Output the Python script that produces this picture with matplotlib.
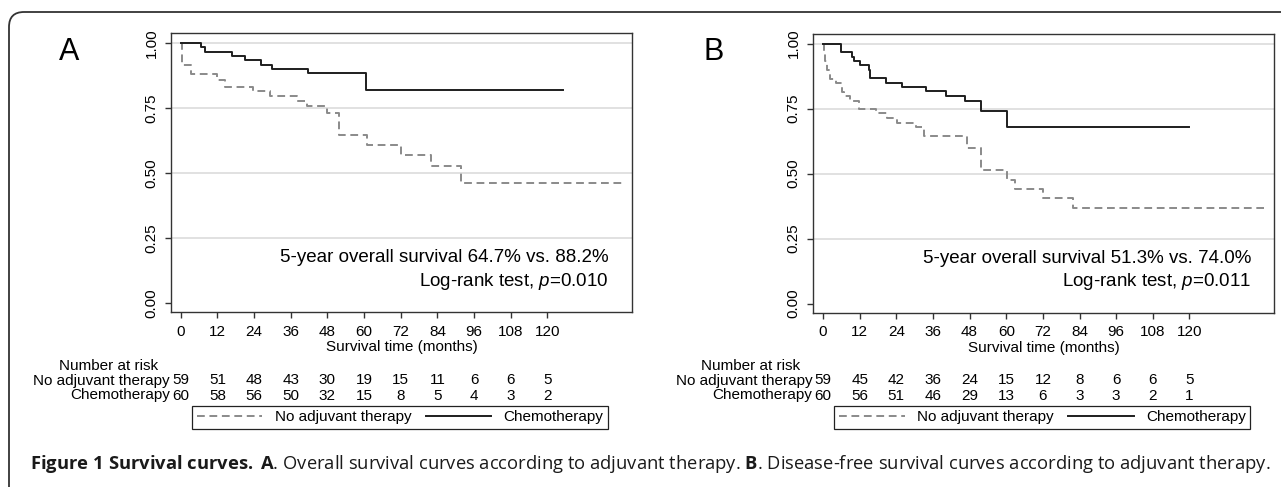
import matplotlib
matplotlib.use("Agg")
import matplotlib.pyplot as plt
from matplotlib.patches import FancyBboxPatch
from matplotlib.transforms import blended_transform_factory

plt.rcParams['font.family'] = ['Liberation Sans', 'DejaVu Sans']
plt.rcParams['mathtext.fontset'] = 'custom'
plt.rcParams['mathtext.rm'] = 'Open Sans'
plt.rcParams['mathtext.bf'] = 'Open Sans:bold'
plt.rcParams['mathtext.it'] = 'Liberation Sans:italic'

# ---- data ----
months = [0, 12, 24, 36, 48, 60, 72, 84, 96, 108, 120]
groups = ["No adjuvant therapy", "Chemotherapy"]

# A: overall survival (step times in months, survival after each step)
os_t_noadj = [0, 0.4, 3.4, 12.0, 14.5, 23.7, 29.3, 38.0, 41.3, 47.9, 51.8, 61.0, 72.1, 82.0, 91.8, 145.0]
os_s_noadj = [1.0, 0.917, 0.882, 0.859, 0.831, 0.814, 0.796, 0.776, 0.757, 0.731, 0.648, 0.609, 0.568, 0.527, 0.463, 0.463]
os_t_chemo = [0, 6.6, 8.0, 16.7, 21.1, 26.3, 29.8, 41.6, 60.6, 125.0]
os_s_chemo = [1.0, 0.983, 0.967, 0.950, 0.933, 0.917, 0.900, 0.883, 0.818, 0.818]
os_risk_noadj = [59, 51, 48, 43, 30, 19, 15, 11, 6, 6, 5]
os_risk_chemo = [60, 58, 56, 50, 32, 15, 8, 5, 4, 3, 2]

# B: disease-free survival
dfs_t_noadj = [0, 0.2, 0.6, 1.2, 2.4, 4.2, 6.2, 7.0, 8.9, 11.7, 17.4, 21.0, 24.2, 30.4, 33.0, 47.1, 51.7, 60.3, 63.0, 72.0, 82.0, 144.5]
dfs_s_noadj = [1.0, 0.966, 0.932, 0.898, 0.864, 0.847, 0.814, 0.797, 0.780, 0.749, 0.733, 0.714, 0.695, 0.678, 0.643, 0.599, 0.515, 0.475, 0.441, 0.405, 0.366, 0.366]
dfs_t_chemo = [0, 5.9, 9.5, 10.2, 12.0, 14.9, 15.5, 20.7, 25.9, 33.7, 40.3, 46.6, 51.7, 60.4, 120.0]
dfs_s_chemo = [1.0, 0.967, 0.950, 0.933, 0.917, 0.900, 0.867, 0.850, 0.833, 0.817, 0.800, 0.778, 0.741, 0.680, 0.680]
dfs_risk_noadj = [59, 45, 42, 36, 24, 15, 12, 8, 6, 6, 5]
dfs_risk_chemo = [60, 56, 51, 46, 29, 13, 6, 3, 3, 2, 1]

notes_A = ["5-year overall survival 64.7% vs. 88.2%", r"Log-rank test, $\mathit{p}$=0.010"]
notes_B = ["5-year overall survival 51.3% vs. 74.0%", r"Log-rank test, $\mathit{p}$=0.011"]

W, H = 1281, 487
fig = plt.figure(figsize=(W / 100, H / 100), dpi=100)


def add_px_axes(l, t, r, b):
    return fig.add_axes([l / W, 1 - b / H, (r - l) / W, (b - t) / H])


def panel(ax, letter, letter_x, t0, s0, t1, s1, risk0, risk1, notes):
    ax.step(t0, s0, where='post', color='#8a8a8a', lw=1.4, dashes=(4.0, 2.4), label=groups[0])
    ax.step(t1, s1, where='post', color='#1e1e1e', lw=1.4, label=groups[1])
    ax.set_xlim(-3.2, 147.7)
    ax.set_ylim(-0.035, 1.037)
    ax.set_xticks(months)
    ax.set_yticks([0, 0.25, 0.5, 0.75, 1.0])
    ax.set_yticklabels(['0.00', '0.25', '0.50', '0.75', '1.00'], rotation=90, va='center')
    ax.tick_params(direction='out', length=4, width=1, color='#333333', labelsize=11, pad=5)
    ax.yaxis.grid(True, color='#dedede', lw=1.3)
    ax.get_ygridlines()[0].set_visible(False)
    ax.set_axisbelow(True)
    for s in ax.spines.values():
        s.set_color('#333333')
        s.set_linewidth(1.0)
    ax.set_xlabel('Survival time (months)', fontsize=11, labelpad=1)

    ax.text(0.95, 0.195, notes[0], transform=ax.transAxes, ha='right', va='center', fontsize=13.5)
    ax.text(0.95, 0.112, notes[1], transform=ax.transAxes, ha='right', va='center', fontsize=13.5)

    # number at risk table
    tr = blended_transform_factory(ax.transData, fig.transFigure)
    ax.text(-23.8, 1 - 366 / H, 'Number at risk', transform=tr, ha='center', va='center', fontsize=11)
    for name, risk, yp in [(groups[0], risk0, 380.5), (groups[1], risk1, 395.5)]:
        ax.text(-3.5, 1 - yp / H, name, transform=tr, ha='right', va='center', fontsize=11)
        for m, n in zip(months, risk):
            ax.text(m, 1 - yp / H, str(n), transform=tr, ha='center', va='center', fontsize=11)

    # legend below the table
    x0 = ax.get_position().x0 + (192 - 171) / W
    leg = ax.legend(ncol=2, loc='center', mode='expand', fontsize=11,
                    bbox_to_anchor=(x0, 1 - 429 / H, 416 / W, 23 / H), bbox_transform=fig.transFigure,
                    frameon=True, fancybox=False, edgecolor='#222222', framealpha=1,
                    handlelength=4.3, handletextpad=0.8, borderpad=0.3, borderaxespad=0)
    leg.get_frame().set_linewidth(0.9)

    fig.text(letter_x / W, 1 - 52 / H, letter, fontsize=22, ha='center', va='center')


axA = add_px_axes(171, 33.3, 632, 312.3)
axB = add_px_axes(813.3, 34, 1274, 312.7)
panel(axA, 'A', 69, os_t_noadj, os_s_noadj, os_t_chemo, os_s_chemo, os_risk_noadj, os_risk_chemo, notes_A)
panel(axB, 'B', 713.5, dfs_t_noadj, dfs_s_noadj, dfs_t_chemo, dfs_s_chemo, dfs_risk_noadj, dfs_risk_chemo, notes_B)

# rounded frame around the figure (runs off the right and bottom edges)
frame = FancyBboxPatch((0.09, -0.5), 14, 5.25, boxstyle='round,pad=0,rounding_size=0.15',
                       transform=fig.dpi_scale_trans, fill=False, ec='#333333', lw=1.3)
fig.add_artist(frame)

caption = (r'$\mathbf{Figure\ 1\ Survival\ curves.}$ $\mathbf{A}$. Overall survival curves according to '
           r'adjuvant therapy. $\mathbf{B}$. Disease-free survival curves according to adjuvant therapy.')
fig.text(30 / W, 1 - 464 / H, caption, family='Open Sans', fontsize=13.2, va='center', color='#1a1a1a')

fig.savefig('out.png', dpi=100)
